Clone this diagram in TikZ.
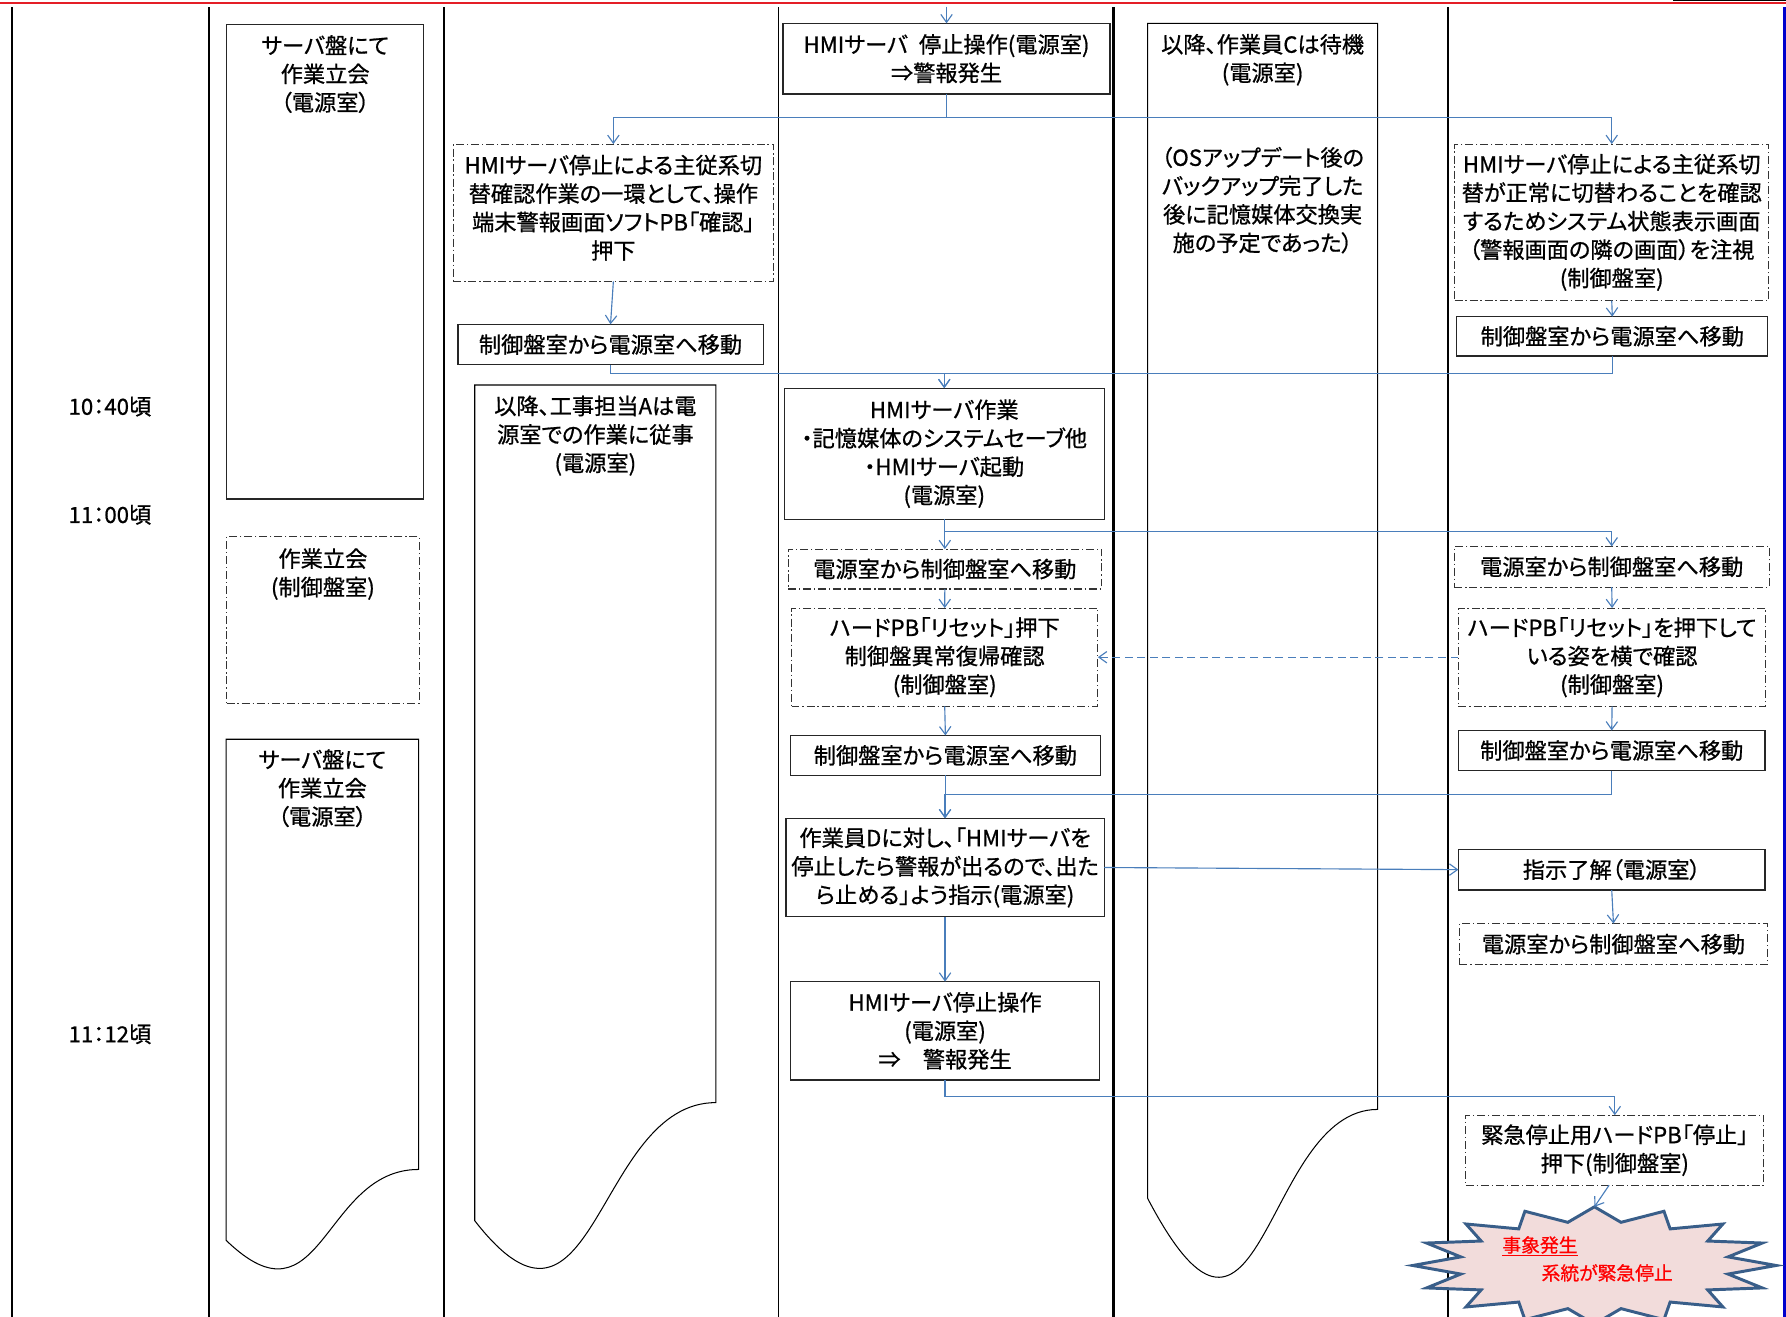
\documentclass[tikz,border=0pt]{standalone}
\usepackage{fontspec}
\setmainfont{Noto Sans CJK JP}[RawFeature=+palt, FakeBold=0.8]
\usetikzlibrary{arrows.meta}
\definecolor{connc}{HTML}{4A7EBB}
\definecolor{starfill}{HTML}{F2DCDB}
\definecolor{starline}{HTML}{395E89}
\definecolor{topred}{HTML}{E41E26}
\definecolor{edgeblue}{HTML}{0000CC}
\begin{document}
\begin{tikzpicture}[x=1pt,y=-1pt,
  every node/.style={inner sep=0pt, outer sep=0pt},
  txt/.style={align=center, font=\fontsize{19.5}{25}\selectfont},
  sbox/.style={txt, draw=black!85, line width=1.1pt},
  dbox/.style={txt, draw=black!80, line width=0.9pt, dash pattern=on 7pt off 2.5pt on 1.2pt off 2.5pt},
  docshape/.style={draw=black, line width=0.9pt},
  lane/.style={draw=black, line width=1.6pt},
  wire/.style={draw=connc, line width=1pt},
  conn/.style={wire, -{Straight Barb[length=7pt,width=10pt]}},
  redtxt/.style={text=red, font=\fontsize{16.5}{20}\selectfont}
]
\useasboundingbox (0,0) rectangle (1568,1156);
\clip (0,0) rectangle (1568,1156);

% frame lines
\draw[topred, line width=1.8pt] (0,2.6) -- (1568,2.6);
\draw[black, line width=1.2pt] (1469,0.6) -- (1568,0.6);
\fill[edgeblue] (1565,6) rectangle (1568,1156);
\draw[lane] (10.5,6.4) -- (10.5,1156);
\draw[lane] (183.5,6.4) -- (183.5,1156);
\draw[lane] (389.5,6.4) -- (389.5,1156);
\draw[lane] (683.5,6.4) -- (683.5,1156);
\draw[lane, line width=2pt] (977.5,6.4) -- (977.5,1156);
\draw[lane] (1271.5,6.4) -- (1271.5,1156);

% time labels
\node[txt] (t1) at (96.5,357) {10：40頃};
\node[txt] (t2) at (96.5,452) {11：00頃};
\node[txt] (t3) at (96.5,908) {11：12頃};

% column A
\node[sbox, minimum width=173pt, minimum height=416.5pt] (A1) at (285.5,229.75) {};
\node[txt] (A1t) at (285.5,65) {サーバ盤にて\\作業立会\\（電源室）};
\node[dbox, minimum width=169pt, minimum height=146.3pt] (A2) at (283.5,544.15) {};
\node[txt] (A2t) at (283.5,504) {作業立会\\(制御盤室)};
\draw[docshape] (198.5,649) -- (367.5,649) -- (367.5,1026.7)
  .. controls (283,1026.7) and (283,1170.6) .. (198.5,1088.9) -- cycle;
\node[txt] (A3t) at (283,692) {サーバ盤にて\\作業立会\\（電源室）};

% column B
\node[dbox, minimum width=281pt, minimum height=120.5pt] (B1) at (538.5,186.75) {};
\node[txt] (B1t) at (538.5,182.4) {HMIサーバ停止による主従系切\\替確認作業の一環として、操作\\端末警報画面ソフトPB「確認」\\押下};
\node[sbox, minimum width=268pt, minimum height=35.5pt] (B2) at (536,302.5) {制御盤室から電源室へ移動};
\draw[docshape] (416.8,338) -- (628.5,338) -- (628.5,968)
  .. controls (522.6,968) and (522.6,1208) .. (416.8,1071.7) -- cycle;
\node[txt] (B3t) at (522.7,382.5) {以降、工事担当Aは電\\源室での作業に従事\\(電源室)};

% column C
\node[sbox, minimum width=287pt, minimum height=62pt] (C1) at (831,51.5) {HMIサーバ\hspace{0.5em}停止操作(電源室)\\⇒警報発生};
\node[sbox, minimum width=281pt, minimum height=115pt] (C2) at (829,398.3) {HMIサーバ作業\\・記憶媒体のシステムセーブ他\\・HMIサーバ起動\\(電源室)};
\node[dbox, minimum width=275pt, minimum height=35pt] (C3) at (829.5,499.6) {電源室から制御盤室へ移動};
\node[dbox, minimum width=269pt, minimum height=86.3pt] (C4) at (829.4,577) {ハードPB「リセット」押下\\制御盤異常復帰確認\\(制御盤室)};
\node[sbox, minimum width=272pt, minimum height=35.1pt] (C5) at (830,663.2) {制御盤室から電源室へ移動};
\node[sbox, minimum width=279.5pt, minimum height=86.3pt] (C6) at (829.7,761.6) {作業員Dに対し、「HMIサーバを\\停止したら警報が出るので、出た\\ら止める」よう指示(電源室)};
\node[sbox, minimum width=271.4pt, minimum height=86.3pt] (C7) at (829.7,905) {HMIサーバ停止操作\\(電源室)\\⇒　警報発生};

% column D
\draw[docshape] (1007.5,20.5) -- (1209.5,20.5) -- (1209.5,974)
  .. controls (1108.5,974) and (1108.5,1245) .. (1007.5,1052) -- cycle;
\node[txt] (D1a) at (1108.5,52.5) {以降、作業員Cは待機\\(電源室)};
\node[txt] (D1b) at (1108.5,175.7) {（OSアップデート後の\\バックアップ完了した\\後に記憶媒体交換実\\施の予定であった）};

% column R
\node[dbox, minimum width=276pt, minimum height=137.5pt] (R1) at (1415,195.25) {HMIサーバ停止による主従系切\\替が正常に切替わることを確認\\するためシステム状態表示画面\\（警報画面の隣の画面）を注視\\(制御盤室)};
\node[sbox, minimum width=273pt, minimum height=34.5pt] (R2) at (1415.5,295.25) {制御盤室から電源室へ移動};
\node[dbox, minimum width=276.4pt, minimum height=35.7pt] (R3) at (1415,497.6) {電源室から制御盤室へ移動};
\node[dbox, minimum width=269.7pt, minimum height=86.3pt] (R4) at (1415.3,577) {ハードPB「リセット」を押下して\\いる姿を横で確認\\(制御盤室)};
\node[sbox, minimum width=269.2pt, minimum height=35.1pt] (R5) at (1415,658.9) {制御盤室から電源室へ移動};
\node[sbox, minimum width=269.2pt, minimum height=35.8pt] (R6) at (1415,763.5) {指示了解（電源室）};
\node[dbox, minimum width=270.3pt, minimum height=36.1pt] (R7) at (1416.5,828.9) {電源室から制御盤室へ移動};
\node[dbox, minimum width=261.5pt, minimum height=61.4pt] (R8) at (1417.7,1009.8) {緊急停止用ハードPB「停止」\\押下(制御盤室)};

% star
\filldraw[fill=starfill, draw=starline, line width=2.6pt, line join=miter]
  plot[variable=\i, samples at={0,...,31}]
  ({1399.8+159.5*(mod(\i,2)==0 ? 1 : 0.75)*cos(90+11.25*\i)},
   {1111-51.5*(mod(\i,2)==0 ? 1 : 0.75)*sin(90+11.25*\i)}) -- cycle;
\coordinate (startop) at (1399.8,1059.5);
\node[redtxt] (ev1) at (1352,1094) {\underline{事象発生}};
\node[redtxt] (ev2) at (1411,1117.5) {系統が緊急停止};

% connectors
\coordinate (topin) at (831,5.9);
\draw[conn] (topin) -- (C1.north);
\draw[conn] (C1.south) -- ++(0,20.8) -| (B1.north);
\draw[conn] (C1.south) -- ++(0,20.8) -| (R1.north);
\draw[conn] (B1.south) -- (B2.north);
\draw[conn] (R1.south) -- (R2.north);
\draw[conn] (B2.south) -- (B2.south |- 0,328) -| (C2.north);
\draw[conn] (R2.south) -- (R2.south |- 0,328) -| (C2.north);
\draw[conn] (C2.south) -- ++(0,10.8) -| (C3.north);
\draw[conn] (C2.south) -- ++(0,10.8) -| (R3.north);
\draw[conn] (C3.south) -- (C4.north);
\draw[conn] (R3.south) -- (R4.north);
\draw[conn, dash pattern=on 7pt off 4pt] (R4.west) -- (C4.east);
\draw[conn] (C4.south) -- (C5.north);
\draw[conn] (R4.south) -- (R5.north);
\draw[conn] (C5.south) -- (C5.south |- 0,697.7) -| (C6.north);
\draw[conn] (R5.south) -- (R5.south |- 0,697.7) -| (C6.north);
\draw[conn] (C6.east) -- (R6.west);
\draw[conn] (C6.south) -- (C7.north);
\draw[conn] (R6.south) -- (R7.north);
\draw[conn] (C7.south) -- ++(0,14.4) -| (R8.north);
\draw[conn] ([xshift=-5pt]R8.south) -- (startop);
\end{tikzpicture}
\end{document}
